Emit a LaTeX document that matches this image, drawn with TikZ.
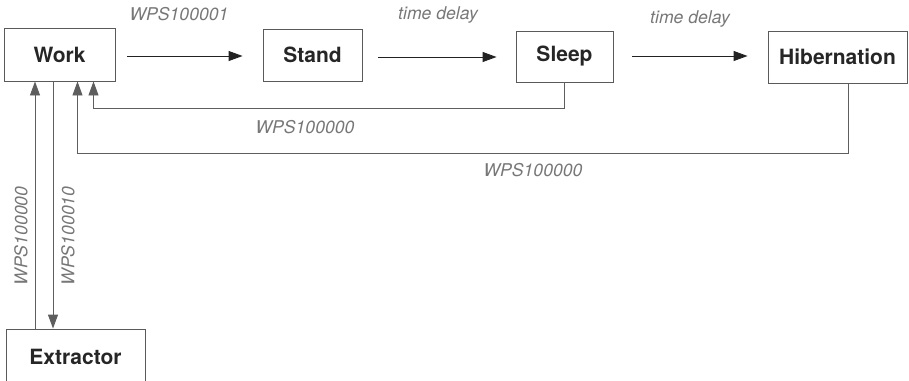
\documentclass[tikz,border=0pt]{standalone}
\usepackage{fontspec}
\setmainfont{TeX Gyre Heros}
\usetikzlibrary{arrows.meta,calc}
\definecolor{boxline}{HTML}{5A5A5A}
\definecolor{flowline}{HTML}{222222}
\definecolor{backline}{HTML}{5E5E5E}
\definecolor{labelgray}{HTML}{777777}
\tikzset{
  state/.style={draw=boxline, line width=0.9pt, rectangle, inner sep=0pt,
    font=\fontsize{21}{24}\selectfont\bfseries, text=black!85},
  flow/.style={draw=flowline, line width=0.9pt, -{Triangle[length=14pt,width=10pt]}},
  back/.style={draw=backline, line width=0.9pt, -{Triangle[length=14pt,width=10pt]}},
  lbl/.style={font=\fontsize{17.6}{20}\selectfont\itshape, text=labelgray, inner sep=0pt}
}
\begin{document}
\begin{tikzpicture}[x=1pt,y=-1pt]
\useasboundingbox (0,0) rectangle (909,380);

% states
\node[state, minimum width=111pt, minimum height=53pt] (work) at (59.5,54.5) {Work};
\node[state, minimum width=99pt, minimum height=52pt] (stand) at (312.5,55) {Stand};
\node[state, minimum width=97pt, minimum height=51pt] (sleep) at (564.5,56.5) {Sleep};
\node[state, minimum width=139pt, minimum height=52pt] (hib) at (837.5,57) {Hibernation};
\node[state, minimum width=139pt, minimum height=56pt] (extr) at (75.5,357) {Extractor};

% forward transitions
\draw[flow, shorten <=12pt, shorten >=20pt] ([yshift=-1.5pt]work.east) -- ([yshift=-1.5pt]work.east -| stand.west);
\draw[flow, shorten <=16pt, shorten >=19pt] ([yshift=-2pt]stand.east) -- ([yshift=-2pt]stand.east -| sleep.west);
\draw[flow, shorten <=19pt, shorten >=20pt] ([yshift=0.5pt]sleep.east) -- ([yshift=0.5pt]sleep.east -| hib.west);

% return paths to Work
\draw[back] (sleep.south) -- ++(0,26) -| ([xshift=34pt]work.south);
\draw[back] ([xshift=10.5pt]hib.south) -- ++(0,70) -| ([xshift=18pt]work.south);

% Work <-> Extractor
\draw[back] ([xshift=-24.5pt]work.south |- extr.north) -- ([xshift=-24.5pt]work.south);
\draw[back] ([xshift=-6.5pt]work.south) -- ([xshift=-6.5pt]work.south |- extr.north);

% labels
\node[lbl] (l1) at (179,14.5) {WPS100001};
\node[lbl] (l2) at (438,15) {time delay};
\node[lbl] (l3) at (690,19.5) {time delay};
\node[lbl] (l4) at (305,127.5) {WPS100000};
\node[lbl] (l5) at (533,170.5) {WPS100000};
\node[lbl, rotate=90] (l6) at (21,236) {WPS100000};
\node[lbl, rotate=90] (l7) at (68,236) {WPS100010};
\end{tikzpicture}
\end{document}
